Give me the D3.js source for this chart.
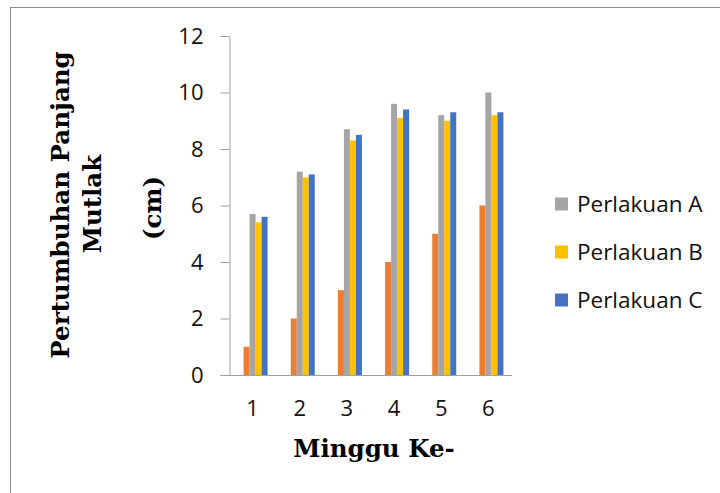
<!DOCTYPE html>
<html>
<head>
<meta charset="utf-8">
<script src="https://cdn.jsdelivr.net/npm/d3@7"></script>
<style>
  html, body { margin: 0; padding: 0; background: #fff; }
  svg { display: block; }
  .sans { font-family: "Open Sans", Lato, sans-serif; }
  .serif { font-family: "DejaVu Serif", "Liberation Serif", serif; font-weight: bold; }
</style>
</head>
<body>
<svg id="chart" width="720" height="493"></svg>
<script>
// Weekly absolute length growth (cm) per treatment
const weeks = ["1", "2", "3", "4", "5", "6"];
const seriesNames = ["Series 1", "Perlakuan A", "Perlakuan B", "Perlakuan C"];
const series1 = [1, 2, 3, 4, 5, 6];
const perlakuanA = [5.7, 7.2, 8.7, 9.6, 9.2, 10.0];
const perlakuanB = [5.4, 7.0, 8.3, 9.1, 9.0, 9.2];
const perlakuanC = [5.6, 7.1, 8.5, 9.4, 9.3, 9.3];
const yTicks = [0, 2, 4, 6, 8, 10, 12];
const legendNames = ["Perlakuan A", "Perlakuan B", "Perlakuan C"];

const colors = {
  "Series 1": "#ED7D31",
  "Perlakuan A": "#A5A5A5",
  "Perlakuan B": "#FFC000",
  "Perlakuan C": "#4472C4"
};

const seriesValues = [series1, perlakuanA, perlakuanB, perlakuanC];
const rows = weeks.map((w, i) => ({
  week: w,
  values: seriesNames.map((s, j) => ({ name: s, value: seriesValues[j][i] }))
}));

const svg = d3.select("#chart");

// outer frame
svg.append("rect")
  .attr("x", 10.5).attr("y", 7.5)
  .attr("width", 720).attr("height", 500)
  .attr("fill", "none").attr("stroke", "#8c8c8c").attr("stroke-width", 1);

const x = d3.scaleBand().domain(weeks).range([229, 512]).padding(0);
const y = d3.scaleLinear().domain([0, 12]).range([375, 36]);

const groupWidth = 24;
const inner = d3.scaleBand().domain(seriesNames).range([0, groupWidth]).padding(0);
const groupOffset = (x.bandwidth() - groupWidth) / 2 + 3;

// bars
const groups = svg.append("g").selectAll("g")
  .data(rows).join("g")
  .attr("transform", d => `translate(${x(d.week) + groupOffset},0)`);

groups.selectAll("rect")
  .data(d => d.values).join("rect")
  .attr("x", d => inner(d.name))
  .attr("y", d => y(d.value))
  .attr("width", inner.bandwidth())
  .attr("height", d => y(0) - y(d.value))
  .attr("fill", d => colors[d.name]);

// y axis
const yAxis = svg.append("g")
  .attr("transform", "translate(229.5,0)")
  .call(d3.axisLeft(y).tickValues(yTicks).tickSize(9).tickSizeOuter(0).tickPadding(17));
yAxis.select(".domain").attr("stroke", "#a0a0a0");
yAxis.selectAll(".tick line").attr("stroke", "#a0a0a0");
yAxis.selectAll(".tick text")
  .attr("class", "sans").attr("font-size", 22).attr("fill", "#111");

// x axis
const xAxis = svg.append("g")
  .attr("transform", "translate(0,375.5)")
  .call(d3.axisBottom(x).tickSize(0).tickSizeOuter(0).tickPadding(25));
xAxis.select(".domain").remove();
xAxis.append("line")
  .attr("x1", 220).attr("x2", 512).attr("y1", 0).attr("y2", 0)
  .attr("stroke", "#a0a0a0");
xAxis.selectAll(".tick text")
  .attr("class", "sans").attr("font-size", 22).attr("fill", "#111");

// axis titles
svg.append("text")
  .attr("class", "serif")
  .attr("x", 374).attr("y", 457)
  .attr("text-anchor", "middle")
  .attr("font-size", 24.5)
  .attr("fill", "#000")
  .text("Minggu Ke-");

const yTitle = [
  { text: "Pertumbuhan Panjang", x: 69, y: 205 },
  { text: "Mutlak", x: 101, y: 204 },
  { text: "(cm)", x: 161, y: 208 }
];
svg.append("g").selectAll("text")
  .data(yTitle).join("text")
  .attr("class", "serif")
  .attr("transform", d => `translate(${d.x},${d.y}) rotate(-90)`)
  .attr("text-anchor", "middle")
  .attr("font-size", 24.5)
  .attr("fill", "#000")
  .text(d => d.text);

// legend
const legend = svg.append("g").selectAll("g")
  .data(legendNames).join("g")
  .attr("transform", (d, i) => `translate(555,${204 + i * 48})`);
legend.append("rect")
  .attr("x", 0).attr("y", -6.5).attr("width", 13).attr("height", 13)
  .attr("fill", d => colors[d]);
legend.append("text")
  .attr("class", "sans")
  .attr("x", 22).attr("y", 0).attr("dy", "0.35em")
  .attr("font-size", 22.5).attr("fill", "#111")
  .text(d => d);
</script>
</body>
</html>
